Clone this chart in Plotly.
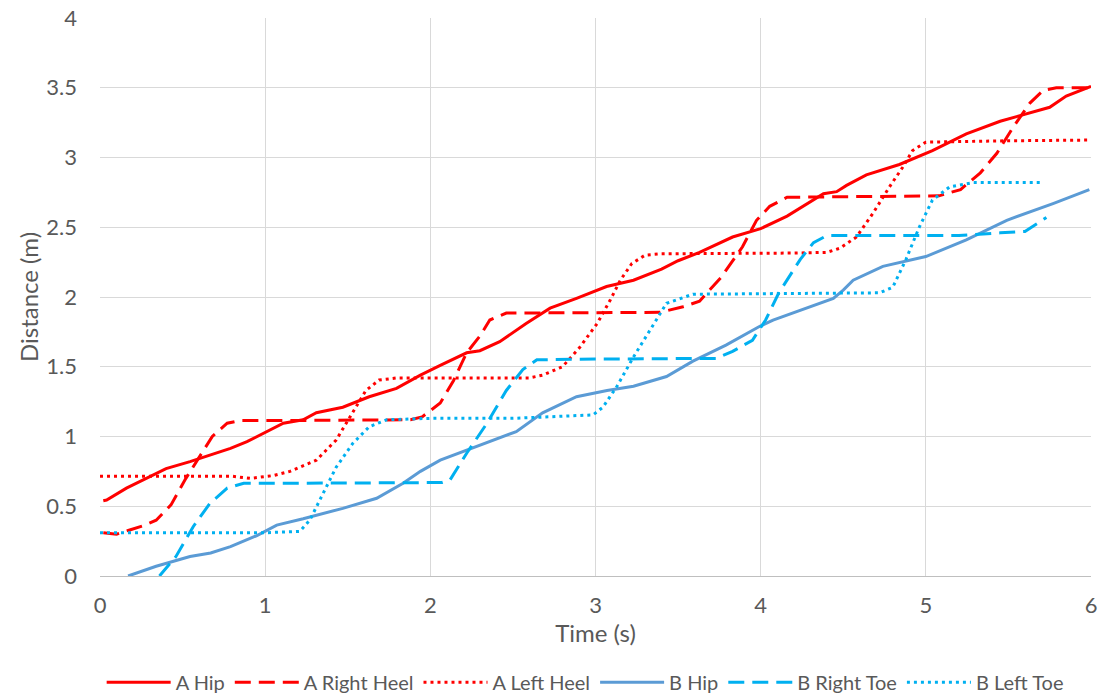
import plotly.graph_objects as go

a_hip_t = [0.02,0.04,0.16,0.28,0.40,0.545,0.665,0.79,0.89,1.01,1.11,1.23,1.31,1.47,1.63,1.795,1.94,2.06,2.22,2.30,2.42,2.58,2.725,2.885,3.067,3.23,3.4,3.5,3.63,3.83,4.0,4.16,4.28,4.38,4.46,4.52,4.64,4.84,5.04,5.245,5.45,5.65,5.75,5.85,6.0]
a_hip_d = [0.54,0.545,0.63,0.70,0.77,0.82,0.867,0.915,0.963,1.035,1.095,1.12,1.17,1.21,1.285,1.345,1.44,1.51,1.60,1.615,1.68,1.81,1.92,1.99,2.075,2.12,2.2,2.26,2.32,2.43,2.49,2.58,2.67,2.74,2.755,2.80,2.875,2.95,3.05,3.17,3.26,3.33,3.36,3.44,3.51]

a_rheel_t = [0.02,0.1,0.18,0.26,0.34,0.43,0.52,0.6,0.68,0.77,0.85,1.2,1.6,1.88,1.95,2.06,2.14,2.22,2.3,2.36,2.46,2.8,3.2,3.39,3.53,3.63,3.76,3.89,3.975,4.055,4.16,4.5,4.8,5.08,5.21,5.33,5.43,5.53,5.63,5.71,5.79,6.0]
a_rheel_d = [0.31,0.30,0.33,0.36,0.40,0.51,0.70,0.85,1.0,1.095,1.115,1.115,1.115,1.12,1.14,1.24,1.40,1.60,1.72,1.835,1.885,1.885,1.885,1.89,1.93,1.97,2.14,2.36,2.55,2.65,2.715,2.72,2.72,2.725,2.77,2.89,3.03,3.22,3.39,3.48,3.5,3.5]

a_lheel_t = [0.0,0.5,0.8,0.91,1.05,1.15,1.31,1.43,1.53,1.61,1.69,1.8,2.2,2.6,2.68,2.8,2.905,3.01,3.09,3.15,3.22,3.3,3.4,3.8,4.2,4.4,4.48,4.58,4.68,4.78,4.86,4.92,5.0,5.5,6.0]
a_lheel_d = [0.715,0.715,0.715,0.70,0.72,0.75,0.83,0.975,1.17,1.33,1.405,1.42,1.42,1.42,1.44,1.50,1.64,1.81,1.98,2.12,2.24,2.30,2.31,2.31,2.315,2.32,2.35,2.43,2.60,2.79,2.93,3.05,3.11,3.12,3.125]

b_hip_t = [0.17,0.34,0.545,0.67,0.79,0.95,1.07,1.23,1.47,1.675,1.835,1.94,2.06,2.28,2.52,2.68,2.885,3.07,3.23,3.43,3.59,3.79,3.995,4.075,4.25,4.44,4.5,4.56,4.74,5.0,5.245,5.49,5.77,5.99]
b_hip_d = [0.0,0.07,0.14,0.165,0.21,0.29,0.365,0.41,0.485,0.557,0.665,0.75,0.83,0.93,1.035,1.17,1.285,1.33,1.36,1.43,1.54,1.655,1.79,1.835,1.91,1.99,2.05,2.12,2.22,2.29,2.41,2.55,2.67,2.77]

b_rtoe_t = [0.36,0.46,0.565,0.665,0.77,0.87,1.2,1.6,2.0,2.07,2.12,2.22,2.34,2.46,2.56,2.645,3.0,3.4,3.73,3.83,3.95,4.03,4.11,4.24,4.32,4.40,4.8,5.2,5.45,5.6,5.73]
b_rtoe_d = [0.0,0.14,0.355,0.52,0.63,0.665,0.665,0.665,0.665,0.67,0.69,0.88,1.09,1.33,1.48,1.55,1.555,1.555,1.56,1.61,1.69,1.835,2.03,2.27,2.39,2.44,2.44,2.44,2.46,2.47,2.57]

b_ltoe_t = [0.0,0.5,1.0,1.21,1.27,1.35,1.43,1.53,1.63,1.735,2.0,2.5,2.985,3.045,3.13,3.23,3.33,3.43,3.59,4.0,4.4,4.72,4.80,4.88,4.96,5.04,5.145,5.285,5.5,5.71]
b_ltoe_d = [0.31,0.31,0.31,0.32,0.40,0.59,0.78,0.95,1.07,1.12,1.13,1.13,1.155,1.21,1.36,1.57,1.76,1.955,2.02,2.025,2.025,2.03,2.07,2.27,2.50,2.695,2.79,2.82,2.82,2.82]

RED = "#FF0000"
BHIP = "#5B9BD5"
BTOE = "#00B0F0"
DASH = "16px,8px"
DOT = "3px,4px"

series = [
    ("A Hip", a_hip_t, a_hip_d, RED, "solid"),
    ("A Right Heel", a_rheel_t, a_rheel_d, RED, DASH),
    ("A Left Heel", a_lheel_t, a_lheel_d, RED, DOT),
    ("B Hip", b_hip_t, b_hip_d, BHIP, "solid"),
    ("B Right Toe", b_rtoe_t, b_rtoe_d, BTOE, DASH),
    ("B Left Toe", b_ltoe_t, b_ltoe_d, BTOE, DOT),
]

fig = go.Figure()
for name, t, d, c, dash in series:
    fig.add_trace(go.Scatter(x=t, y=d, name=name, mode="lines",
                             line=dict(color=c, width=3, dash=dash)))

font_family = "Lato, 'Open Sans', sans-serif"
fig.update_layout(
    width=1102, height=694,
    margin=dict(l=100, r=11, t=18, b=118, autoexpand=False),
    paper_bgcolor="white", plot_bgcolor="white",
    font=dict(family=font_family, color="#595959", size=20),
    showlegend=True,
    legend=dict(orientation="h", xref="container", yref="container",
                x=0.531, xanchor="center", y=0.017, yanchor="middle",
                font=dict(size=20, color="#595959"), itemwidth=64, tracegroupgap=0),
    xaxis=dict(range=[0, 6], dtick=1, showgrid=True, gridcolor="#D9D9D9", gridwidth=1,
               zeroline=False, showline=True, linecolor="#BFBFBF", linewidth=1,
               ticks="", tickfont=dict(size=22, color="#595959"), ticklabelstandoff=10,
               title=dict(text="Time (s)", font=dict(size=24, color="#595959"), standoff=4)),
    yaxis=dict(range=[0, 4], dtick=0.5, showgrid=True, gridcolor="#D9D9D9", gridwidth=1,
               zeroline=False, showline=False, ticks="",
               tickfont=dict(size=22, color="#595959"), ticklabelstandoff=22,
               title=dict(text="Distance (m)", font=dict(size=24, color="#595959"), standoff=0)),
)

fig.write_html("out.html")
